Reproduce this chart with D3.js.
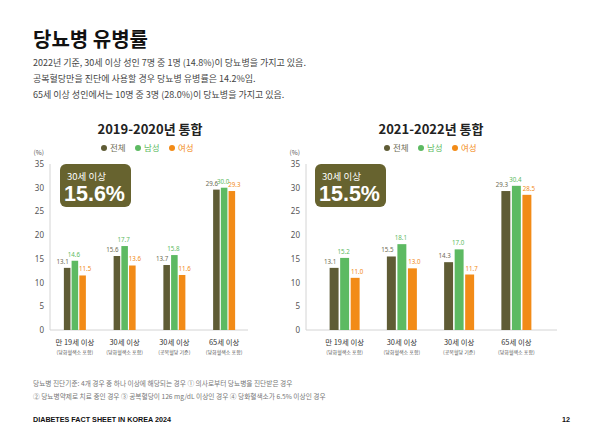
<!DOCTYPE html>
<meta charset="utf-8">
<style>
    body { margin: 0; background: #fff; }
</style>
<body>
<script src="https://cdn.jsdelivr.net/npm/d3@7"></script>
<script>

    // chart data
    var series = ["전체", "남성", "여성"];
    var colors = ["#5f5c35", "#5dba62", "#f28b17"];
    var labelColors = ["#6e6c55", "#5dba62", "#f28b17"];
    var categories = ["만 19세 이상", "30세 이상", "30세 이상", "65세 이상"];
    var subCategories = ["(당화혈색소 포함)", "(당화혈색소 포함)", "(공복혈당 기준)", "(당화혈색소 포함)"];
    var yTicks = [0, 5, 10, 15, 20, 25, 30, 35];

    var values2019 = {
        "전체": [13.1, 15.6, 13.7, 29.6],
        "남성": [14.6, 17.7, 15.8, 30.0],
        "여성": [11.5, 13.6, 11.6, 29.3]
    };
    var values2021 = {
        "전체": [13.1, 15.5, 14.3, 29.3],
        "남성": [15.2, 18.1, 17.0, 30.4],
        "여성": [11.0, 13.0, 11.7, 28.5]
    };

    var svg = d3.select("body").append("svg")
        .attr("width", 602)
        .attr("height", 440)
        .attr("font-family", "\"Noto Sans CJK KR\", \"Noto Sans\", sans-serif");

    // header
    svg.append("text")
        .attr("x", 33).attr("y", 47)
        .attr("font-size", "20px").attr("font-weight", "bold")
        .attr("fill", "#111")
        .text("당뇨병 유병률");

    var intro = [
        "2022년 기준, 30세 이상 성인 7명 중 1명 (14.8%)이 당뇨병을 가지고 있음.",
        "공복혈당만을 진단에 사용할 경우 당뇨병 유병률은 14.2%임.",
        "65세 이상 성인에서는 10명 중 3명 (28.0%)이 당뇨병을 가지고 있음."
    ];
    svg.selectAll(".intro").data(intro).enter().append("text")
        .attr("x", 33)
        .attr("y", function (d, i) { return 66 + i * 16; })
        .attr("font-size", "9px")
        .attr("fill", "#444")
        .text(function (d) { return d; });

    function drawChart(opt) {
        var g = svg.append("g");

        var y = d3.scaleLinear().domain([0, 35]).range([330, 164]);
        var x = d3.scaleBand().domain(d3.range(categories.length)).range(opt.band);
        var xs = d3.scaleBand().domain(series)
            .range([x.bandwidth() / 2 - opt.groupW / 2, x.bandwidth() / 2 + opt.groupW / 2])
            .paddingInner(0.15);

        // title
        g.append("text")
            .attr("x", opt.titleX).attr("y", 134)
            .attr("text-anchor", "middle")
            .attr("font-size", "13px").attr("font-weight", "bold")
            .attr("fill", "#222")
            .text(opt.title);

        // legend
        var leg = g.selectAll(".leg").data(series).enter().append("g")
            .attr("transform", function (d, i) { return "translate(" + (opt.legendX + i * 34) + ",148)"; });
        leg.append("circle").attr("r", 3)
            .attr("fill", function (d, i) { return colors[i]; });
        leg.append("text")
            .attr("x", 6).attr("y", 3.2)
            .attr("font-size", "8.5px")
            .attr("fill", function (d, i) { return labelColors[i]; })
            .text(function (d) { return d; });

        // y axis
        g.append("g")
            .attr("transform", "translate(" + opt.axisX + ",0)")
            .call(d3.axisLeft(y).tickValues(yTicks).tickSize(0).tickPadding(6))
            .call(function (a) {
                a.select(".domain").remove();
                a.selectAll("text").attr("font-size", "8px").attr("fill", "#555")
                    .attr("font-family", "\"Noto Sans\", sans-serif");
            });
        g.append("text")
            .attr("x", opt.axisX - 6).attr("y", 155)
            .attr("text-anchor", "end")
            .attr("font-size", "6.5px").attr("fill", "#555")
            .text("(%)");

        g.append("line")
            .attr("x1", opt.axisX).attr("x2", opt.axisX)
            .attr("y1", y(35)).attr("y2", y(0))
            .attr("stroke", "#d4d4d4");
        g.append("line")
            .attr("x1", opt.axisX).attr("x2", opt.axisEnd)
            .attr("y1", y(0)).attr("y2", y(0))
            .attr("stroke", "#d4d4d4");

        // bars
        var groups = g.selectAll(".grp").data(categories).enter().append("g")
            .attr("transform", function (d, i) { return "translate(" + x(i) + ",0)"; });

        series.forEach(function (s, si) {
            groups.append("rect")
                .attr("x", xs(s))
                .attr("width", xs.bandwidth())
                .attr("y", function (d, i) { return y(opt.values[s][i]); })
                .attr("height", function (d, i) { return y(0) - y(opt.values[s][i]); })
                .attr("fill", colors[si]);
            // value labels spread a little so neighbours don't collide
            groups.append("text")
                .attr("x", xs(s) + xs.bandwidth() / 2 + (si - 1) * opt.labelSpread - 1)
                .attr("y", function (d, i) { return y(opt.values[s][i]) - 4; })
                .attr("text-anchor", "middle")
                .attr("font-size", "6.2px")
                .attr("font-family", "\"Noto Sans\", sans-serif")
                .attr("fill", labelColors[si])
                .text(function (d, i) { return opt.values[s][i].toFixed(1); });
        });

        // category labels
        groups.append("text")
            .attr("x", x.bandwidth() / 2).attr("y", 345)
            .attr("text-anchor", "middle")
            .attr("font-size", "7.4px").attr("fill", "#333")
            .text(function (d) { return d; });
        groups.append("text")
            .attr("x", x.bandwidth() / 2).attr("y", 354)
            .attr("text-anchor", "middle")
            .attr("font-size", "5px").attr("fill", "#555")
            .text(function (d, i) { return subCategories[i]; });

        // highlight box
        var box = g.append("g").attr("transform", "translate(" + opt.boxX + ",164)");
        box.append("rect")
            .attr("width", 71).attr("height", 43).attr("rx", 6)
            .attr("fill", "#67632f");
        box.append("text")
            .attr("x", 7).attr("y", 16)
            .attr("font-size", "9.5px").attr("fill", "#fff")
            .text("30세 이상");
        box.append("text")
            .attr("x", 4).attr("y", 37)
            .attr("font-size", "21.5px").attr("font-weight", "bold")
            .attr("font-family", "\"Liberation Sans\", Arial, sans-serif")
            .attr("fill", "#fff")
            .text(opt.highlight);
    }

    drawChart({
        title: "2019-2020년 통합", titleX: 150, legendX: 104,
        axisX: 50, axisEnd: 248, band: [50, 249], groupW: 22, labelSpread: 3.5,
        boxX: 60, highlight: "15.6%", values: values2019
    });
    drawChart({
        title: "2021-2022년 통합", titleX: 431, legendX: 387,
        axisX: 306, axisEnd: 557, band: [316, 545], groupW: 30, labelSpread: 3,
        boxX: 315, highlight: "15.5%", values: values2021
    });

    // footnotes
    var notes = [
        "당뇨병 진단기준: 4개 경우 중 하나 이상에 해당되는 경우 ① 의사로부터 당뇨병을 진단받은 경우",
        "② 당뇨병약제로 치료 중인 경우 ③ 공복혈당이 126 mg/dL 이상인 경우 ④ 당화혈색소가 6.5% 이상인 경우"
    ];
    svg.selectAll(".note").data(notes).enter().append("text")
        .attr("x", 33)
        .attr("y", function (d, i) { return 386 + i * 12.5; })
        .attr("font-size", "6.7px").attr("fill", "#777")
        .text(function (d) { return d; });

    svg.append("text")
        .attr("x", 33).attr("y", 422)
        .attr("font-size", "7.2px").attr("font-weight", "bold")
        .attr("font-family", "\"Liberation Sans\", Arial, sans-serif")
        .attr("fill", "#111")
        .text("DIABETES FACT SHEET IN KOREA 2024");
    svg.append("text")
        .attr("x", 570).attr("y", 422)
        .attr("text-anchor", "end")
        .attr("font-size", "7.2px").attr("font-weight", "bold")
        .attr("font-family", "\"Liberation Sans\", Arial, sans-serif")
        .attr("fill", "#111")
        .text("12");

</script>
</body>
